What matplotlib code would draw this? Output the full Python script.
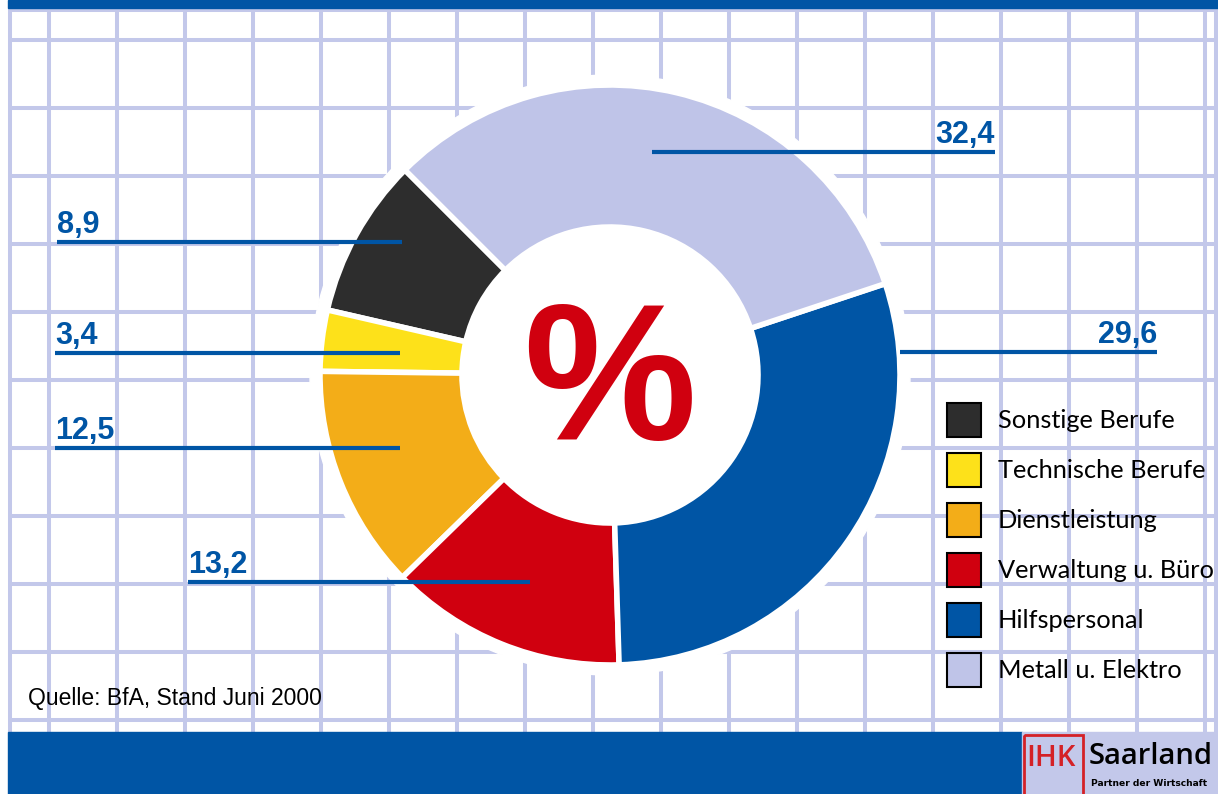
import numpy as np
import matplotlib.pyplot as plt
from matplotlib.patches import Rectangle, Circle

# data
categories = ['Sonstige Berufe', 'Technische Berufe', 'Dienstleistung',
              'Verwaltung u. Büro', 'Hilfspersonal', 'Metall u. Elektro']
values = [8.9, 3.4, 12.5, 13.2, 29.6, 32.4]
value_labels = ['8,9', '3,4', '12,5', '13,2', '29,6', '32,4']
colors = ['#2d2d2d', '#fde11a', '#f3ad18', '#d0000f', '#0055a5', '#bfc4e8']

# label layout (pixel coords): x_start, x_end, y of leader line, text alignment
label_lines = {
    '8,9': (57, 402, 242, 'left'),
    '3,4': (55, 400, 353, 'left'),
    '12,5': (55, 400, 448, 'left'),
    '13,2': (188, 530, 582, 'left'),
    '29,6': (900, 1157, 352, 'right'),
    '32,4': (652, 995, 152, 'right'),
}

W, H = 1218, 794
blue = '#0055a5'
gridc = '#c3c8ea'

fig = plt.figure(figsize=(W / 100, H / 100), dpi=100)
ax = fig.add_axes([0, 0, 1, 1])

# background grid
for y in [9.5] + list(np.arange(40, 731, 68)):
    ax.plot([8, W], [y, y], color=gridc, lw=2.9, zorder=1, solid_capstyle='butt')
for x in [9.5] + list(np.arange(49, W, 68)) + [1216]:
    ax.plot([x, x], [8, 732], color=gridc, lw=2.9, zorder=1, solid_capstyle='butt')

# top bar and bottom band
ax.add_patch(Rectangle((8, 0), W - 8, 8, color=blue, zorder=2))
ax.add_patch(Rectangle((8, 732), 1014, H - 732, color=blue, zorder=2))
ax.add_patch(Rectangle((1022, 732), W - 1022, H - 732, color=gridc, zorder=2))

# white halo behind donut
cx, cy, R = 610, 375, 290
ax.add_patch(Circle((cx, cy), 300, color='white', zorder=2))

wedges, _ = ax.pie(values, colors=colors, center=(cx, cy), radius=R,
                   startangle=-135, counterclock=False,
                   wedgeprops=dict(width=142, edgecolor='white', linewidth=4))
for w in wedges:
    w.set_zorder(3)

ax.text(cx, 439, '%', color='#d0000f', fontsize=140, fontweight='bold',
        family='Liberation Sans', ha='center', va='baseline', zorder=5)

# value labels with leader lines
for lab in value_labels:
    x0, x1, ly, ha = label_lines[lab]
    ax.plot([x0, x1], [ly, ly], color=blue, lw=3, zorder=4, solid_capstyle='butt')
    tx = x0 if ha == 'left' else x1
    ax.text(tx, ly - 9, lab, color=blue, fontsize=22, fontweight='bold',
            family='Liberation Sans', ha=ha, va='baseline', zorder=5)

# legend
for i, (cat, col) in enumerate(zip(categories, colors)):
    y0 = 403 + 50 * i
    ax.add_patch(Rectangle((947, y0), 34, 34, facecolor=col, edgecolor='black',
                           lw=1.5, zorder=5))
    ax.text(998, y0 + 18, cat, fontsize=18.3, family='Lato', ha='left',
            va='center', zorder=5)

ax.text(28, 698, 'Quelle: BfA, Stand Juni 2000', fontsize=16.5,
        family='Liberation Sans', ha='left', va='center', zorder=5)

# logo
ax.add_patch(Rectangle((1024, 735), 59, 62, facecolor='none', edgecolor='#d42127',
                       lw=2, zorder=5))
ax.text(1051, 758, 'IHK', color='#d42127', fontsize=21, fontweight='semibold',
        family='Open Sans', ha='center', va='center', zorder=6)
ax.text(1089, 757, 'Saarland', color='black', fontsize=21, fontweight='semibold',
        family='Open Sans', ha='left', va='center', zorder=6)
ax.text(1091, 783, 'Partner der Wirtschaft', color='black', fontsize=6.6,
        fontweight='bold', family='DejaVu Sans', ha='left', va='center', zorder=6)

ax.set_xlim(0, W)
ax.set_ylim(H, 0)
ax.set_aspect('auto')
ax.axis('off')

fig.savefig('out.png', dpi=100, facecolor='white')
